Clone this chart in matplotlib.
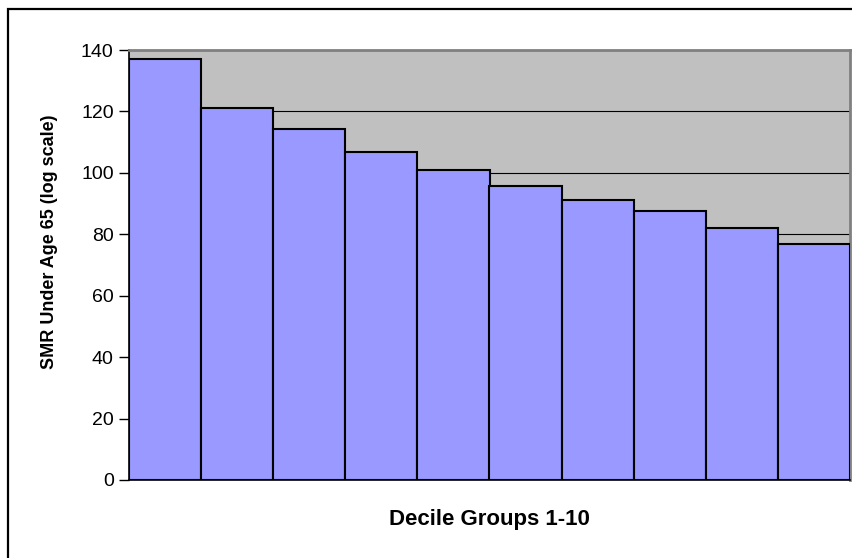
import numpy as np
import matplotlib
matplotlib.use("Agg")
import matplotlib.pyplot as plt
from matplotlib.patches import Rectangle

plt.rcParams["font.family"] = ["Liberation Sans", "DejaVu Sans"]

# SMR under age 65 for each decile group
deciles = np.arange(1, 11)
smr = [137.0, 121.2, 114.2, 106.9, 100.9, 95.8, 91.3, 87.5, 82.2, 76.8]
yticks = [0, 20, 40, 60, 80, 100, 120, 140]

W, H = 853, 558
fig = plt.figure(figsize=(W / 100, H / 100), dpi=100)

# outer chart frame (cut off at right and bottom)
fig.patches.append(Rectangle((8 / W, -0.1), 1.2, 1 - 9 / H + 0.1,
                             transform=fig.transFigure, fill=False,
                             ec="black", lw=1.6))

ax = fig.add_axes([129 / W, 78 / H, 721 / W, 430 / H])
ax.set_facecolor("#C0C0C0")
ax.bar(deciles, smr, width=1.0, color="#9999FF", edgecolor="black",
       linewidth=1.5, zorder=3)

ax.set_xlim(0.5, 10.5)
ax.set_ylim(0, 140)
ax.set_yticks(yticks)
ax.set_xticks([])
ax.yaxis.grid(True, color="black", lw=0.8, zorder=0)
ax.set_axisbelow(True)
ax.tick_params(axis="y", direction="out", length=7, width=1, labelsize=14,
               pad=4)

for side in ("top", "right"):
    ax.spines[side].set_color("#808080")
    ax.spines[side].set_linewidth(2)
for side in ("left", "bottom"):
    ax.spines[side].set_color("black")
    ax.spines[side].set_linewidth(1.2)

fig.text(489.5 / W, 1 - 519 / H, "Decile Groups 1-10", fontsize=16,
         fontweight="bold", ha="center", va="center")
fig.text(50 / W, 1 - 242 / H, "SMR Under Age 65 (log scale)", fontsize=13,
         fontweight="bold", ha="center", va="center", rotation=90)

fig.savefig("out.png", dpi=100)
